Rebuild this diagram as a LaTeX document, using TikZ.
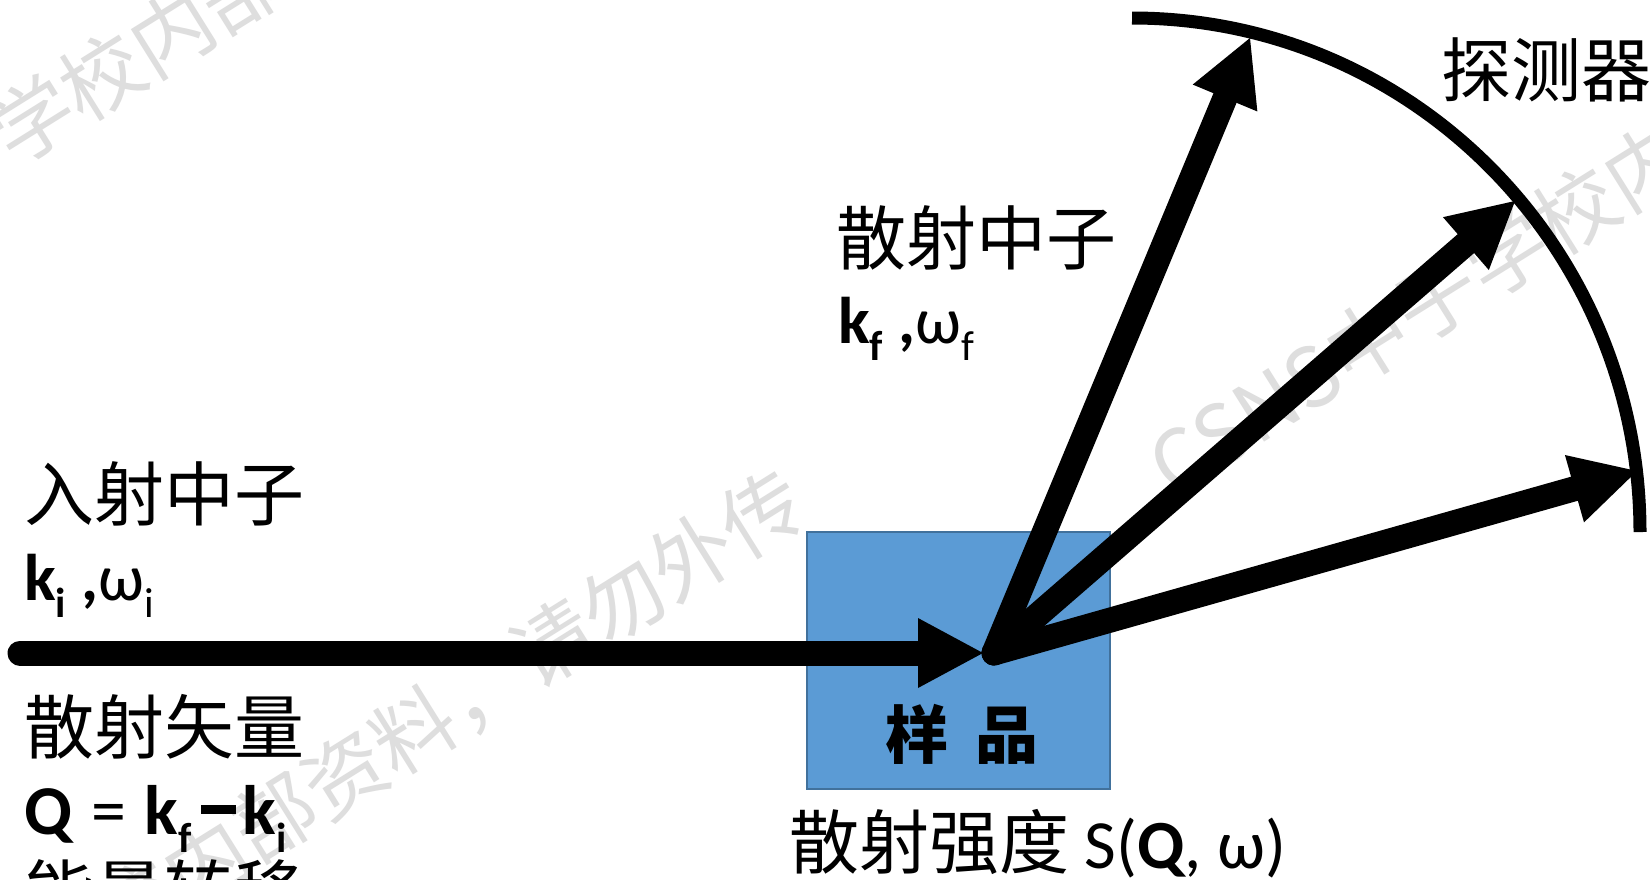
\documentclass[tikz,border=0pt]{standalone}
\usepackage{fontspec}
\setmainfont{Carlito}
\newfontfamily\cjk{Noto Sans CJK SC}
\usetikzlibrary{arrows.meta}
\definecolor{samplefill}{RGB}{91,155,213}
\definecolor{sampleedge}{RGB}{65,113,156}
\definecolor{wm}{RGB}{222,222,222}
\newcommand\lo[1]{\raisebox{-0.27em}{\fontsize{42}{42}\selectfont #1}}
\newcommand\bigdash{\rule[20pt]{35pt}{9pt}}
\tikzset{
  cjktext/.style={font=\cjk\fontsize{70}{80}\selectfont, inner sep=0pt, anchor=west},
  latin/.style={font=\fontsize{66}{78}\selectfont, inner sep=0pt, anchor=base west},
  beam/.style={line width=25pt, line cap=round, -{Triangle[length=65pt,width=70pt,line width=0pt]}},
  wmark/.style={font=\cjk\fontsize{82}{90}\selectfont, text=wm, inner sep=0pt, rotate=32},
  sample/.style={fill=samplefill, draw=sampleedge, line width=1.5pt, inner sep=0pt},
  detector/.style={line width=13pt}
}
\begin{document}
\begin{tikzpicture}[x=1pt,y=-1pt]
\useasboundingbox (0,0) rectangle (1650,879);
\fill[white] (0,0) rectangle (1650,879);
% watermarks
\coordinate (w1) at (-2,142);
\node[wmark, anchor=west] (wm1a) at (w1) {学校内部资料，请勿外传};
\node[wmark, anchor=east] (wm1b) at (w1) {CSNS中子};
\node[wmark, anchor=east] (wm2) at (797,492) {CSNS中子学校内部资料，请勿外传};
\coordinate (w3) at (1472,276);
\node[wmark, anchor=west] (wm3a) at (w3) {学校内部资料，请勿外传};
\node[wmark, anchor=east] (wm3b) at (w3) {CSNS中子};
% sample
\node[sample, minimum width=303pt, minimum height=257pt, anchor=north west] (sample) at (806,531) {};
\node[font=\cjk\bfseries\fontsize{63}{70}\selectfont, inner sep=0pt] (samplelabel) at (962,734) {样\hspace{27pt}品};
% beams
\coordinate (src) at (20,653);
\coordinate (hit) at (983,653);
\coordinate (O) at (994,653);
\coordinate (t1) at (1250,38);
\coordinate (t2) at (1515,201);
\coordinate (t3) at (1637,471);
\draw[beam] (src) -- (hit);
\draw[beam] (O) -- (t1);
\draw[beam] (O) -- (t2);
\draw[beam] (O) -- (t3);
% detector arc
\coordinate (arcA) at (1132,18);
\draw[detector] (arcA) arc[start angle=-90, end angle=0, x radius=508, y radius=514];
% labels
\node[cjktext] (inlabel) at (24,494) {入射中子};
\node[latin] (inq) at (24,600) {\textbf{k\lo{i} ,}ω\lo{i}};
\node[cjktext] (qlabel) at (24,727) {散射矢量};
\node[latin, font=\fontsize{70}{80}\selectfont] (qdef) at (24,834) {\textbf{Q} \hspace{2pt}=\hspace{2pt} \textbf{k\lo{f}}\hspace{10pt}\bigdash\hspace{6pt}\textbf{k\lo{i}}};
\node[cjktext] (elabel) at (24,892) {能量转移};
\node[cjktext] (outlabel) at (836,238) {散射中子};
\node[latin] (outq) at (838,343) {\textbf{k\lo{f} ,}ω\lo{f}};
\node[cjktext] (det) at (1441,70) {探测器};
\node[latin, font=\fontsize{69}{80}\selectfont] (sqw) at (789,868) {{\cjk\fontsize{70}{80}\selectfont 散射强度} S(\textbf{Q}, ω)};
\end{tikzpicture}
\end{document}
